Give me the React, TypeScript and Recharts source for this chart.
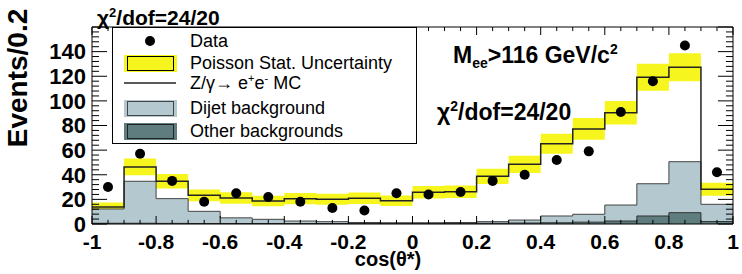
import React from "react";
import {
  ComposedChart,
  Area,
  Line,
  Scatter,
  XAxis,
  YAxis,
  ReferenceLine,
} from "recharts";

// bin edges of cos(theta*), 20 bins of 0.1
const binEdges = [
  -1, -0.9, -0.8, -0.7, -0.6, -0.5, -0.4, -0.3, -0.2, -0.1, 0, 0.1, 0.2, 0.3, 0.4, 0.5, 0.6, 0.7, 0.8, 0.9, 1,
];
const binCenters = [
  -0.95, -0.85, -0.75, -0.65, -0.55, -0.45, -0.35, -0.25, -0.15, -0.05, 0.05, 0.15, 0.25, 0.35, 0.45, 0.55, 0.65,
  0.75, 0.85, 0.95,
];

// Z/gamma -> ee MC total (black step line)
const mcTotal = [
  13.8, 46.3, 34.7, 23.3, 21.1, 18.7, 20.6, 20.1, 20.9, 18.9, 25.8, 26.2, 38.7, 48.5, 65.2, 77.2, 90.4, 119.2, 127.3,
  28.2,
];
// half width of the yellow Poisson band
const mcStatErr = [3.7, 6.8, 5.9, 4.8, 4.6, 4.3, 4.5, 4.5, 4.6, 4.3, 5.1, 5.1, 6.2, 7.0, 8.1, 8.8, 9.5, 10.9, 11.3, 5.3];
const dijetBkg = [12.2, 34.7, 20.6, 10.3, 5.0, 3.8, 2.4, 1.9, 1.2, 1.0, 1.0, 1.2, 1.9, 3.2, 6.5, 7.9, 15.4, 32.7, 50.6, 16.0];
const otherBkg = [0.6, 0.6, 0.5, 0.4, 0.4, 0.4, 0.4, 0.4, 0.5, 0.5, 0.5, 0.5, 0.6, 0.8, 1.0, 1.5, 2.4, 6.5, 9.2, 2.0];
const dataCounts = [30, 57, 35, 18, 25, 22, 18, 13, 11, 25, 24, 26, 35, 40, 52, 59, 91, 116, 145, 42];

const xLabelTicks = [-1, -0.8, -0.6, -0.4, -0.2, 0, 0.2, 0.4, 0.6, 0.8, 1];
const yLabelTicks = [0, 20, 40, 60, 80, 100, 120, 140];

const FONT = "Liberation Sans, Arial, Helvetica, sans-serif";
const YELLOW = "#f6f61e";
const DIJET = "#b4c8cf";
const OTHER = "#5f7d7f";

const histRows = binEdges.map((x, i) => {
  const k = Math.min(i, mcTotal.length - 1);
  return {
    x,
    mc: mcTotal[k],
    band: [mcTotal[k] - mcStatErr[k], mcTotal[k] + mcStatErr[k]],
    dijet: dijetBkg[k],
    other: otherBkg[k],
  };
});
const pointRows = binCenters.map((x, i) => ({ x, data: dataCounts[i] }));

// tick mark positions (ROOT style, inward on all four sides)
const xTickMarks = Array.from({ length: 41 }, (_, k) => ({
  v: Math.round((-1 + k * 0.05) * 100) / 100,
  major: k % 4 === 0,
}));
const yTickMarks = Array.from({ length: 41 }, (_, k) => ({ v: k * 4, major: k % 5 === 0 }));

const xTickStyle = { fontSize: 21, fontWeight: 700, fill: "#000", fontFamily: FONT };
const yTickStyle = { fontSize: 22, fontWeight: 700, fill: "#000", fontFamily: FONT };

function fmtX(v: number) {
  return String(v);
}

export default function App() {
  return (
    <div style={{ position: "absolute", left: 0, top: 0, width: 742, height: 274, background: "#fff" }}>
      <ComposedChart width={742} height={274} data={histRows} margin={{ top: 27, right: 9, bottom: 0, left: 32 }}>
        <XAxis
          type="number"
          dataKey="x"
          domain={[-1, 1]}
          ticks={xLabelTicks}
          tickFormatter={fmtX}
          height={50}
          tickSize={0}
          tickMargin={10}
          tickLine={false}
          axisLine={{ stroke: "#000" }}
          tick={xTickStyle}
          interval={0}
        />
        <YAxis
          type="number"
          domain={[0, 160]}
          ticks={yLabelTicks}
          width={60}
          tickSize={0}
          tickMargin={6}
          tickLine={false}
          axisLine={{ stroke: "#000" }}
          tick={yTickStyle}
          interval={0}
        />
        <Area
          type="stepAfter"
          dataKey="band"
          fill={YELLOW}
          fillOpacity={1}
          stroke="none"
          isAnimationActive={false}
        />
        <Area
          type="stepAfter"
          dataKey="dijet"
          fill={DIJET}
          fillOpacity={1}
          stroke="#444"
          strokeWidth={1}
          isAnimationActive={false}
        />
        <Area
          type="stepAfter"
          dataKey="other"
          fill={OTHER}
          fillOpacity={1}
          stroke="#333"
          strokeWidth={1}
          isAnimationActive={false}
        />
        <Line type="stepAfter" dataKey="mc" stroke="#222" strokeWidth={1.5} dot={false} isAnimationActive={false} />
        <Scatter
          data={pointRows}
          dataKey="data"
          fill="#000"
          isAnimationActive={false}
          shape={(p: any) => <circle cx={p.cx} cy={p.cy} r={5} fill="#000" />}
        />
        <ReferenceLine y={160} stroke="#000" />
        <ReferenceLine x={1} stroke="#000" />
        {xTickMarks.map((t) => (
          <ReferenceLine
            key={"xb" + t.v}
            segment={[
              { x: t.v, y: 0 },
              { x: t.v, y: t.major ? 6.5 : 3.3 },
            ]}
            stroke="#000"
          />
        ))}
        {xTickMarks.map((t) => (
          <ReferenceLine
            key={"xt" + t.v}
            segment={[
              { x: t.v, y: 160 },
              { x: t.v, y: t.major ? 153.5 : 156.7 },
            ]}
            stroke="#000"
          />
        ))}
        {yTickMarks.map((t) => (
          <ReferenceLine
            key={"yl" + t.v}
            segment={[
              { x: -1, y: t.v },
              { x: t.major ? -0.953 : -0.978, y: t.v },
            ]}
            stroke="#000"
          />
        ))}
        {yTickMarks.map((t) => (
          <ReferenceLine
            key={"yr" + t.v}
            segment={[
              { x: 1, y: t.v },
              { x: t.major ? 0.953 : 0.978, y: t.v },
            ]}
            stroke="#000"
          />
        ))}
      </ComposedChart>

      <svg
        width={742}
        height={274}
        style={{ position: "absolute", left: 0, top: 0, pointerEvents: "none" }}
        fontFamily={FONT}
      >
        {/* titles */}
        <text x={97} y={25} fontSize={21} fontWeight={700}>
          χ<tspan dy={-8} fontSize={13}>2</tspan>
          <tspan dy={8} fontSize={21}>/dof=24/20</tspan>
        </text>
        <text x={437} y={120} fontSize={23} fontWeight={700}>
          χ<tspan dy={-9} fontSize={14}>2</tspan>
          <tspan dy={9} fontSize={23}>/dof=24/20</tspan>
        </text>
        <text x={453} y={63} fontSize={23} fontWeight={700}>
          M<tspan dy={5} fontSize={14}>ee</tspan>
          <tspan dy={-5} fontSize={23}>&gt;116 GeV/c</tspan>
          <tspan dy={-9} fontSize={14}>2</tspan>
        </text>
        <text x={388} y={266} fontSize={20} fontWeight={700} textAnchor="middle">
          cos(θ*)
        </text>
        <text transform="translate(27,78) rotate(-90)" fontSize={28} fontWeight={700} textAnchor="middle">
          Events/0.2
        </text>

        {/* legend */}
        <rect x={112.5} y={27.5} width={304} height={116} fill="#fff" stroke="#000" strokeWidth={1} />
        <circle cx={150} cy={41} r={5} fill="#000" />
        <text x={190} y={47} fontSize={18}>Data</text>

        <rect x={124} y={55} width={53} height={17} fill={YELLOW} />
        <rect x={127.5} y={56.5} width={46} height={14} fill="none" stroke="#000" />
        <text x={190} y={69} fontSize={18}>Poisson Stat. Uncertainty</text>

        <line x1={124} x2={176} y1={83} y2={83} stroke="#222" strokeWidth={1.5} />
        <text x={190} y={89} fontSize={18}>
          Z/γ→ e<tspan dy={-7} fontSize={11}>+</tspan>
          <tspan dy={7} fontSize={18}>e</tspan>
          <tspan dy={-7} fontSize={11}>-</tspan>
          <tspan dy={7} fontSize={18}> MC</tspan>
        </text>

        <rect x={124} y={100} width={53} height={17} fill={DIJET} />
        <rect x={127.5} y={101.5} width={46} height={14} fill="none" stroke="#444" />
        <text x={190} y={114} fontSize={18}>Dijet background</text>

        <rect x={124} y={123} width={53} height={17} fill={OTHER} />
        <rect x={127.5} y={124.5} width={46} height={14} fill="none" stroke="#222" />
        <text x={190} y={137} fontSize={18}>Other backgrounds</text>
      </svg>
    </div>
  );
}
